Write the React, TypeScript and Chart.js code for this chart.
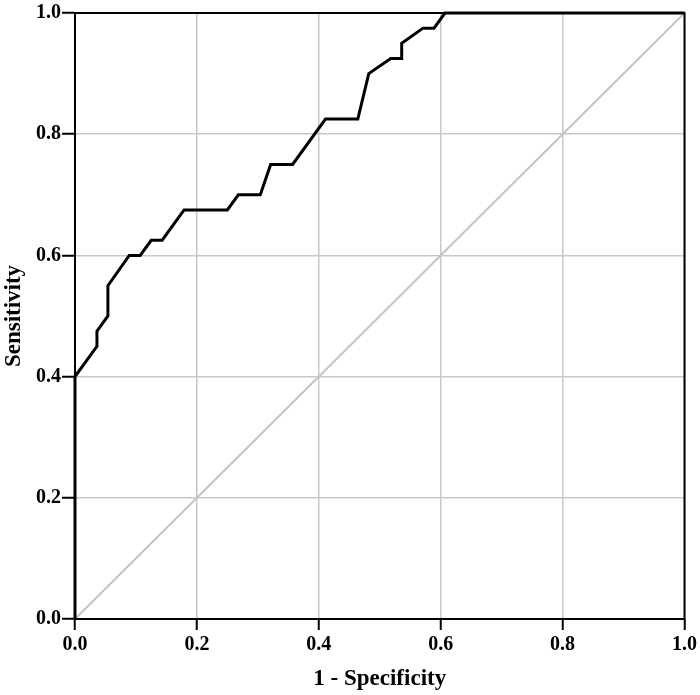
import React, { useEffect, useRef } from "react";
import { Chart, registerables } from "chart.js";

Chart.register(...registerables);

const fpr = [0, 0, 0.036, 0.036, 0.054, 0.054, 0.089, 0.107, 0.125, 0.143, 0.179, 0.25, 0.268, 0.304, 0.321, 0.357, 0.411, 0.464, 0.482, 0.518, 0.536, 0.536, 0.571, 0.589, 0.607, 1];
const tpr = [0, 0.4, 0.45, 0.475, 0.5, 0.55, 0.6, 0.6, 0.625, 0.625, 0.675, 0.675, 0.7, 0.7, 0.75, 0.75, 0.825, 0.825, 0.9, 0.925, 0.925, 0.95, 0.975, 0.975, 1, 1];
const refX = [0, 1];
const refY = [0, 1];
const tickValues = [0, 0.2, 0.4, 0.6, 0.8, 1.0];
const xTitle = "1 - Specificity";
const yTitle = "Sensitivity";

const FONT = "'Liberation Serif', 'Times New Roman', serif";

const boxPlugin = {
  id: "box",
  afterDatasetsDraw(chart: any) {
    const { ctx, chartArea } = chart;
    ctx.save();
    ctx.strokeStyle = "#000";
    ctx.lineWidth = 2;
    ctx.strokeRect(chartArea.left, chartArea.top, chartArea.right - chartArea.left, chartArea.bottom - chartArea.top);
    ctx.restore();
  },
};

export default function App() {
  const ref = useRef<HTMLCanvasElement>(null);
  useEffect(() => {
    const chart = new Chart(ref.current!, {
      type: "scatter",
      data: {
        datasets: [
          {
            data: fpr.map((x, i) => ({ x, y: tpr[i] })),
            showLine: true,
            borderColor: "#000",
            borderWidth: 3,
            pointRadius: 0,
            tension: 0,
            clip: 6,
            order: 0,
          } as any,
          {
            data: refX.map((x, i) => ({ x, y: refY[i] })),
            showLine: true,
            borderColor: "#c4c4c4",
            borderWidth: 2,
            pointRadius: 0,
            order: 1,
          } as any,
        ],
      },
      options: {
        animation: false,
        responsive: false,
        layout: { padding: { top: 8, right: 15, left: 0, bottom: 0 } },
        plugins: { legend: { display: false }, tooltip: { enabled: false } },
        scales: {
          x: {
            type: "linear",
            min: 0,
            max: 1,
            afterBuildTicks: (s: any) => { s.ticks = tickValues.map((v) => ({ value: v })); },
            afterFit: (s: any) => { s.height = 76; },
            grid: { color: "#c8c8c8", lineWidth: 1.5, tickColor: "#000", tickLength: 11, tickWidth: 2 },
            border: { color: "#000", width: 2 },
            ticks: {
              color: "#000",
              padding: 3,
              font: { family: FONT, size: 20, weight: "bold" },
              callback: (v: any) => Number(v).toFixed(1),
              maxRotation: 0,
            },
            title: {
              display: true,
              text: xTitle,
              color: "#000",
              font: { family: FONT, size: 23, weight: "bold" },
              padding: { top: 8, bottom: 2 },
            },
          },
          y: {
            type: "linear",
            min: 0,
            max: 1,
            afterBuildTicks: (s: any) => { s.ticks = tickValues.map((v) => ({ value: v })); },
            afterFit: (s: any) => { s.width = 75; },
            grid: { color: "#c8c8c8", lineWidth: 1.5, tickColor: "#000", tickLength: 13, tickWidth: 2 },
            border: { color: "#000", width: 2 },
            ticks: {
              color: "#000",
              padding: 1,
              font: { family: FONT, size: 20, weight: "bold" },
              callback: (v: any) => Number(v).toFixed(1),
            },
            title: {
              display: true,
              text: yTitle,
              color: "#000",
              font: { family: FONT, size: 23, weight: "bold" },
              padding: { top: 0, bottom: 0 },
            },
          },
        },
      },
      plugins: [boxPlugin],
    } as any);
    return () => chart.destroy();
  }, []);
  return (
    <div style={{ position: "fixed", left: 0, top: 0, width: 700, height: 695, background: "#fff" }}>
      <canvas ref={ref} width={700} height={695} style={{ width: 700, height: 695 }} />
    </div>
  );
}
